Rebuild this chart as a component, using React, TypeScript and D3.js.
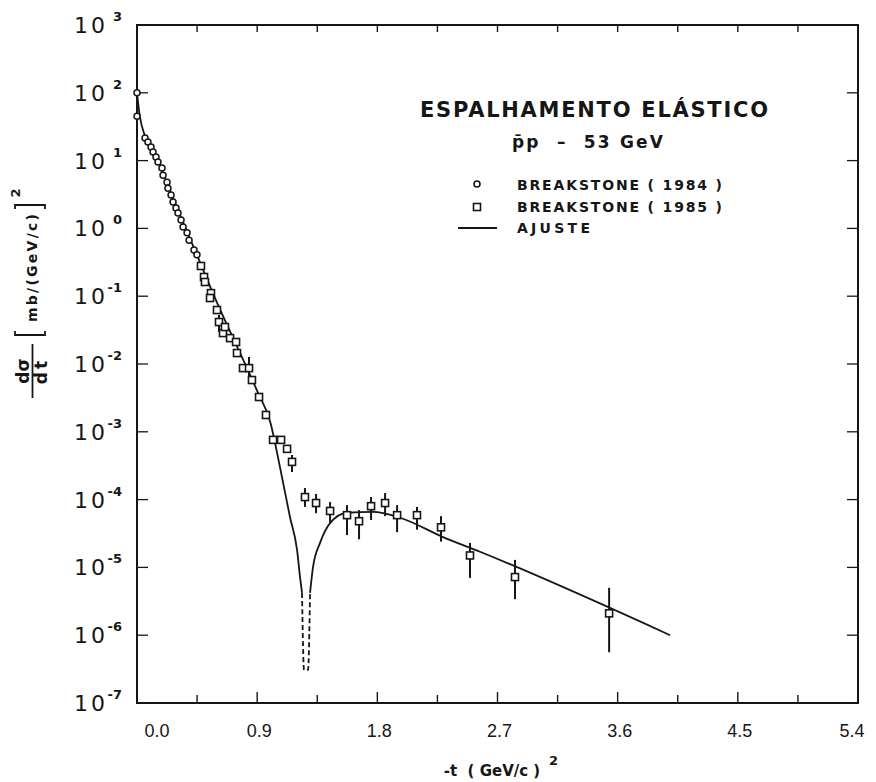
import React from "react";
import * as d3 from "d3";

const width = 876;
const height = 782;
const margin = { top: 25, right: 18, bottom: 79, left: 137 };
const innerWidth = width - margin.left - margin.right;
const innerHeight = height - margin.top - margin.bottom;

// Breakstone (1984) - circles
const t1984 = [0.0, 0.0, 0.06, 0.082, 0.105, 0.12, 0.142, 0.157, 0.187, 0.195, 0.225, 0.232, 0.255, 0.27, 0.292, 0.307, 0.33, 0.345, 0.375, 0.39, 0.427, 0.449];
const ds1984 = [100, 45, 21.5, 18.8, 15.9, 13.4, 11.3, 9.5, 7.8, 6.1, 4.8, 3.9, 3.1, 2.45, 2.0, 1.69, 1.33, 1.05, 0.86, 0.67, 0.48, 0.41];

// Breakstone (1985) - squares, with error bars (null = no bar drawn)
const t1985 = [0.479, 0.502, 0.509, 0.554, 0.547, 0.599, 0.614, 0.644, 0.659, 0.697, 0.742, 0.749, 0.794, 0.839, 0.861, 0.914, 0.966, 1.019, 1.079, 1.124, 1.161, 1.258, 1.341, 1.446, 1.573, 1.663, 1.753, 1.858, 1.948, 2.097, 2.277, 2.494, 2.831, 3.536];
const ds1985 = [0.279, 0.192, 0.162, 0.111, 0.094, 0.0625, 0.0416, 0.0286, 0.0351, 0.0241, 0.0211, 0.0145, 0.0087, 0.0087, 0.0058, 0.00326, 0.00177, 7.6e-4, 7.6e-4, 5.6e-4, 3.6e-4, 1.09e-4, 8.9e-5, 6.8e-5, 5.9e-5, 4.8e-5, 8.0e-5, 8.9e-5, 5.9e-5, 5.9e-5, 3.9e-5, 1.5e-5, 7.2e-6, 2.1e-6];
const errHi1985 = [null, null, null, null, null, null, 0.053, null, null, null, null, null, null, 0.0127, null, null, null, null, null, null, 4.55e-4, 1.48e-4, 1.21e-4, 9.2e-5, 8.3e-5, 7.0e-5, 1.09e-4, 1.25e-4, 8.3e-5, 7.8e-5, 5.7e-5, 2.3e-5, 1.29e-5, 5.0e-6];
const errLo1985 = [null, null, null, null, null, null, 0.0297, null, null, null, null, null, null, 0.0062, null, null, null, null, null, null, 2.55e-4, 7.8e-5, 6.3e-5, 4.5e-5, 3.0e-5, 2.6e-5, 5.0e-5, 5.7e-5, 3.3e-5, 3.6e-5, 2.4e-5, 7.0e-6, 3.4e-6, 5.6e-7];

// Ajuste (fit curve)
const tFit = [0.0, 0.022, 0.06, 0.15, 0.3, 0.45, 0.6, 0.75, 0.9, 1.0, 1.071, 1.146, 1.199, 1.221, 1.236, 1.251, 1.281, 1.296, 1.318, 1.371, 1.446, 1.573, 1.768, 1.97, 2.292, 2.569, 3.993];
const dsFit = [100, 44, 23, 10.5, 2.0, 0.4, 0.08, 0.018, 0.004, 0.00135, 3.0e-4, 5.5e-5, 1.8e-5, 7.2e-6, 4.2e-6, 3.07e-7, 3.07e-7, 4.2e-6, 1.0e-5, 2.3e-5, 4.5e-5, 6.4e-5, 6.6e-5, 5.4e-5, 2.8e-5, 1.7e-5, 1.0e-6];

const xTickLabels = [0, 0.9, 1.8, 2.7, 3.6, 4.5, 5.4];
const xMinorTicks = [0.45, 1.35, 2.25, 3.15, 4.05, 4.95];
const decades = [3, 2, 1, 0, -1, -2, -3, -4, -5, -6, -7];

const ink = "#161616";

const App = () => {
  const xScale = d3.scaleLinear().domain([0, 5.4]).range([0, innerWidth]);
  const yScale = d3.scaleLog().domain([1e-7, 1e3]).range([innerHeight, 0]);

  const allXTicks = [...xTickLabels, ...xMinorTicks].filter((v) => v > 0 && v < 5.4);
  const yTicks = yScale.ticks();
  const isMajor = (v) => Math.abs(Math.log10(v) - Math.round(Math.log10(v))) < 1e-6;

  const fit = tFit.map((t, i) => ({ t, v: dsFit[i] }));
  const lineGen = d3
    .line()
    .curve(d3.curveMonotoneX)
    .x((d) => xScale(d.t))
    .y((d) => yScale(d.v));

  // the bottom of the dip is drawn dashed
  const solidA = fit.filter((d) => d.t <= 1.236);
  const dashed = fit.filter((d) => d.t >= 1.236 && d.t <= 1.296);
  const solidB = fit.filter((d) => d.t >= 1.296);

  return (
    <svg
      width={width}
      height={height}
      style={{ position: "absolute", left: 0, top: 0, background: "#fff" }}
      fontFamily="DejaVu Sans, sans-serif"
    >
      <g transform={`translate(${margin.left}, ${margin.top})`}>
        {/* frame */}
        <rect x={0} y={0} width={innerWidth} height={innerHeight} fill="none" stroke={ink} strokeWidth={2} />

        {/* y ticks, left and right */}
        {yTicks.map((v) => {
          const len = isMajor(v) ? 11 : 6;
          return (
            <g key={v} transform={`translate(0, ${yScale(v)})`} stroke={ink} strokeWidth={1.3}>
              <line x1={0} x2={len} />
              <line x1={innerWidth} x2={innerWidth - len} />
            </g>
          );
        })}

        {/* x ticks, top and bottom */}
        {allXTicks.map((v) => (
          <g key={v} transform={`translate(${xScale(v)}, 0)`} stroke={ink} strokeWidth={1.4}>
            <line y1={0} y2={7} />
            <line y1={innerHeight} y2={innerHeight - (xTickLabels.includes(v) ? 11 : 8)} />
          </g>
        ))}

        {/* y labels */}
        {decades.map((d) => (
          <g key={d} transform={`translate(0, ${yScale(Math.pow(10, d))})`} fill={ink}>
            <text x={-29} y={8} textAnchor="end" fontSize={22} letterSpacing={3}>
              10
            </text>
            <text x={-15} y={-4} textAnchor="end" fontSize={13} fontWeight="bold">
              {d < 0 ? `-${-d}` : d}
            </text>
          </g>
        ))}

        {/* x labels */}
        {xTickLabels.map((v, i) => (
          <text
            key={v}
            x={xScale(v) + (i === 0 ? 20 : i === xTickLabels.length - 1 ? -6 : 2)}
            y={innerHeight + 34}
            textAnchor="middle"
            fontSize={18}
            fontFamily="Liberation Sans, Arial, sans-serif"
            fill={ink}
          >
            {v.toFixed(1)}
          </text>
        ))}

        {/* fit curve */}
        <path d={lineGen(solidA)} fill="none" stroke={ink} strokeWidth={1.8} />
        <path d={lineGen(dashed)} fill="none" stroke={ink} strokeWidth={1.8} strokeDasharray="5 3" />
        <path d={lineGen(solidB)} fill="none" stroke={ink} strokeWidth={1.8} />

        {/* 1985 error bars and squares */}
        {t1985.map((t, i) =>
          errHi1985[i] !== null ? (
            <line
              key={"e" + i}
              x1={xScale(t)}
              x2={xScale(t)}
              y1={yScale(errHi1985[i])}
              y2={yScale(errLo1985[i])}
              stroke={ink}
              strokeWidth={2}
            />
          ) : null
        )}
        {t1985.map((t, i) => (
          <rect
            key={"s" + i}
            x={xScale(t) - 3.5}
            y={yScale(ds1985[i]) - 3.5}
            width={7}
            height={7}
            fill="#fff"
            stroke={ink}
            strokeWidth={1.6}
          />
        ))}

        {/* 1984 circles */}
        {t1984.map((t, i) => (
          <circle key={"c" + i} cx={xScale(t)} cy={yScale(ds1984[i])} r={3} fill="#fff" stroke={ink} strokeWidth={1.5} />
        ))}
      </g>

      {/* legend block */}
      <g fill={ink}>
        <text x={420} y={117} fontSize={21} textLength={348} lengthAdjust="spacing" fontWeight="600">
          ESPALHAMENTO ELÁSTICO
        </text>
        <text x={512} y={148} fontSize={17} fontWeight="bold" style={{ whiteSpace: "pre" }} textLength={151} lengthAdjust="spacing">
          {"p\u0304p  \u2013  53 GeV"}
        </text>
        <circle cx={477} cy={184} r={3} fill="#fff" stroke={ink} strokeWidth={1.6} />
        <text x={517} y={190} fontSize={14} fontWeight="bold" textLength={205} lengthAdjust="spacing" style={{ whiteSpace: "pre" }}>
          {"BREAKSTONE ( 1984 )"}
        </text>
        <rect x={473.5} y={203.5} width={7} height={7} fill="#fff" stroke={ink} strokeWidth={1.6} />
        <text x={517} y={212} fontSize={14} fontWeight="bold" textLength={205} lengthAdjust="spacing" style={{ whiteSpace: "pre" }}>
          {"BREAKSTONE ( 1985 )"}
        </text>
        <line x1={458} x2={497} y1={228} y2={228} stroke={ink} strokeWidth={1.8} />
        <text x={517} y={233} fontSize={14} fontWeight="bold" textLength={73} lengthAdjust="spacing">
          AJUSTE
        </text>
      </g>

      {/* x title */}
      <g fill={ink} fontWeight="bold">
        <text x={492} y={776} textAnchor="middle" fontSize={15} style={{ whiteSpace: "pre" }}>
          {"-t  ( GeV/c )"}
        </text>
        <text x={549} y={765} fontSize={13}>
          2
        </text>
      </g>

      {/* y title, rotated */}
      <g transform="rotate(-90)" fill={ink} fontWeight="bold">
        <text x={-371} y={29} textAnchor="middle" fontSize={17}>
          dσ
        </text>
        <line x1={-398} x2={-344} y1={32.5} y2={32.5} stroke={ink} strokeWidth={1.8} />
        <text x={-371} y={47} textAnchor="middle" fontSize={17} letterSpacing={3}>
          dt
        </text>
        <path d="M-331,15 L-335,15 L-335,45 L-331,45" fill="none" stroke={ink} strokeWidth={1.8} />
        <text x={-268} y={37} textAnchor="middle" fontSize={14} textLength={108} lengthAdjust="spacing">
          mb/(GeV/c)
        </text>
        <path d="M-209,15 L-205,15 L-205,45 L-209,45" fill="none" stroke={ink} strokeWidth={1.8} />
        <text x={-193} y={20} textAnchor="middle" fontSize={13}>
          2
        </text>
      </g>
    </svg>
  );
};

export default App;
